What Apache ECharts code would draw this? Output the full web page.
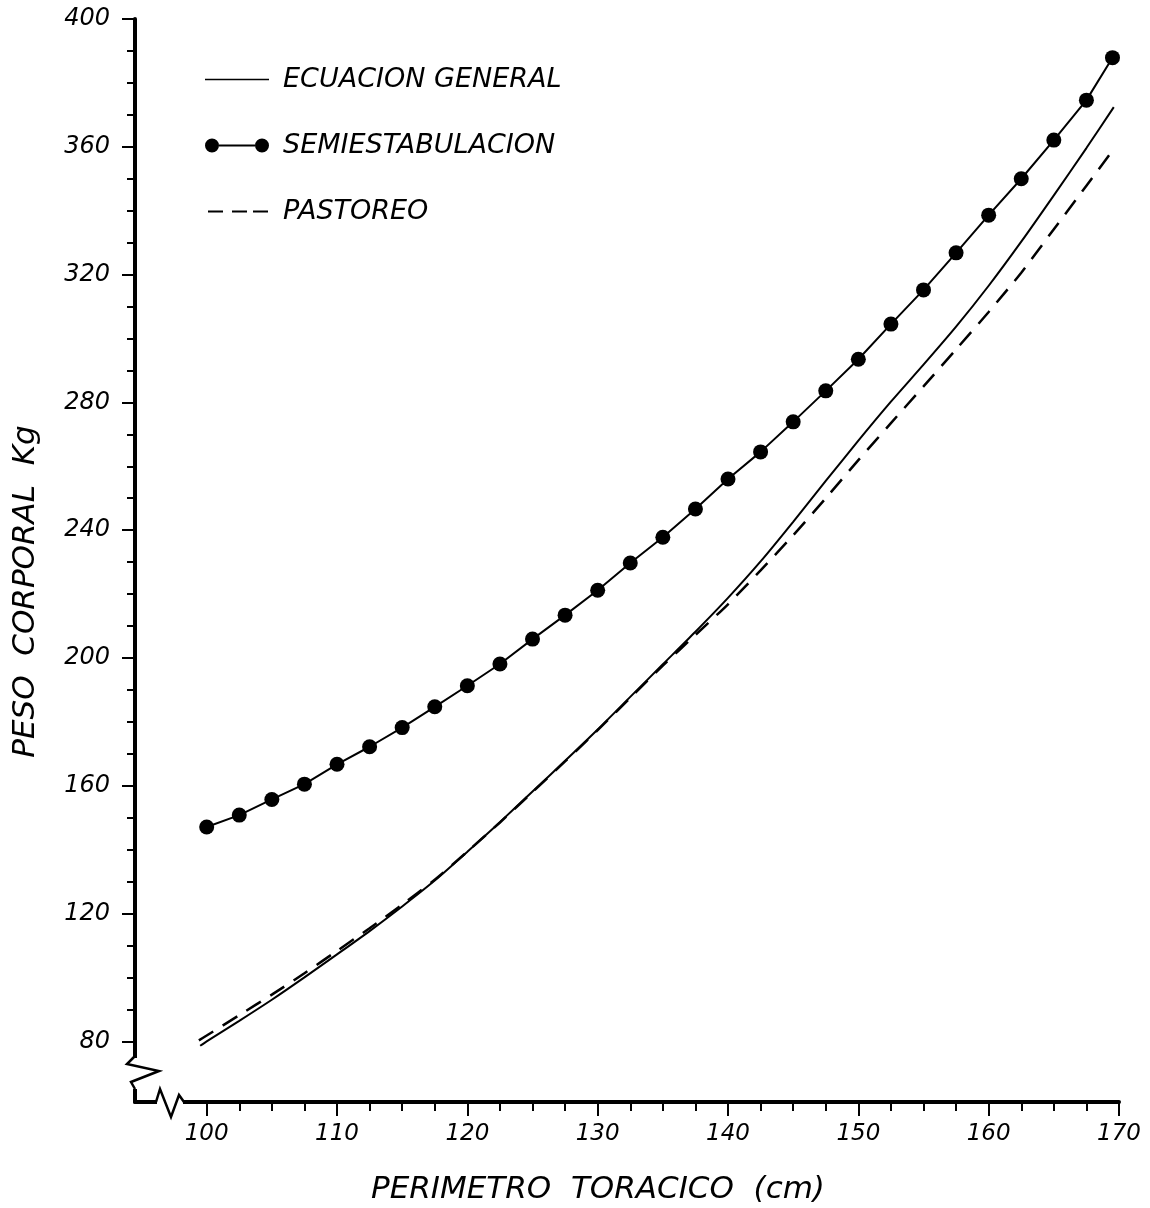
<!DOCTYPE html>
<html>
<head>
<meta charset="utf-8">
<script src="https://cdn.jsdelivr.net/npm/echarts@6/dist/echarts.min.js"></script>
<style>
  html, body { margin: 0; padding: 0; background: #fff; }
  #main { width: 1150px; height: 1208px; }
</style>
</head>
<body>
<div id="main"></div>
<script>
// axis ranges and ticks
const X_MIN = 94.5, X_MAX = 170;
const Y_MIN = 61, Y_MAX = 400;
const xMajor = [100, 110, 120, 130, 140, 150, 160, 170];
const xMinor = [102.5, 105, 107.5, 112.5, 115, 117.5, 122.5, 125, 127.5, 132.5, 135, 137.5,
  142.5, 145, 147.5, 152.5, 155, 157.5, 162.5, 165, 167.5];
const yMajor = [80, 120, 160, 200, 240, 280, 320, 360, 400];
const yMinor = [90, 100, 110, 130, 140, 150, 170, 180, 190, 210, 220, 230, 250, 260, 270,
  290, 300, 310, 330, 340, 350, 370, 380, 390];

// ECUACION GENERAL
const genX = [99.5, 100, 102.5, 105, 107.5, 110, 112.5, 115, 117.5, 120, 122.5, 125, 127.5, 130,
  132.5, 135, 137.5, 140, 142.5, 145, 147.5, 150, 152.5, 155, 157.5, 160, 162.5, 165, 167.5, 169.6];
const genY = [78.6, 80.0, 86.4, 93.0, 100.0, 107.2, 114.5, 122.2, 130.3, 139.3, 148.6, 158.2, 167.8, 177.6,
  187.8, 198.0, 208.2, 218.8, 230.2, 242.6, 255.4, 268.0, 280.2, 291.8, 303.7, 316.5, 330.3, 344.8, 359.6, 372.4];

// SEMIESTABULACION
const semiX = [100, 102.5, 105, 107.5, 110, 112.5, 115, 117.5, 120, 122.5, 125, 127.5, 130, 132.5,
  135, 137.5, 140, 142.5, 145, 147.5, 150, 152.5, 155, 157.5, 160, 162.5, 165, 167.5, 169.5];
const semiY = [147.1, 150.8, 155.7, 160.5, 166.7, 172.2, 178.2, 184.7, 191.3, 198.1, 205.9, 213.4, 221.2, 229.7,
  237.8, 246.6, 256.0, 264.5, 273.9, 283.6, 293.5, 304.5, 315.2, 326.8, 338.6, 350.0, 362.1, 374.6, 387.9];

// PASTOREO
const pastX = [99.4, 100, 102.5, 105, 107.5, 110, 112.5, 115, 117.5, 120, 122.5, 125, 127.5, 130,
  132.5, 135, 137.5, 140, 142.5, 145, 147.5, 150, 152.5, 155, 157.5, 160, 162.5, 165, 167.5, 169.25];
const pastY = [80.3, 81.8, 88.2, 94.6, 101.3, 108.3, 115.4, 122.8, 130.6, 139.4, 148.5, 158.0, 167.6, 177.4,
  187.5, 197.6, 207.2, 216.8, 227.4, 238.4, 250.0, 261.9, 273.5, 285.0, 296.6, 308.3, 320.6, 334.2, 347.8, 357.4];

const FONT = 'DejaVu Sans';
const pairs = (xs, ys) => xs.map((x, i) => [x, ys[i]]);

// legend glyphs (tiny corner squares pin the 64x14 box)
const PIN = 'M0,0H0.01V0.01H0Z M63.99,13.99H64V14H63.99Z ';
const iconSolid = 'path://' + PIN + 'M0,6.2H64V7.8H0Z';
const iconDots = 'path://' + PIN + 'M0,7A7,7,0,1,1,14,7A7,7,0,1,1,0,7Z M14,6.1H50V7.9H14Z M50,7A7,7,0,1,1,64,7A7,7,0,1,1,50,7Z';
const iconDash = 'path://' + PIN + 'M3,6H18V8H3Z M27,6H42V8H27Z M48,6H63V8H48Z';

const chart = echarts.init(document.getElementById('main'));

const option = {
  backgroundColor: '#fff',
  animation: false,
  grid: { left: 135, top: 19, width: 984, height: 1083, outerBoundsMode: 'none' },
  legend: {
    orient: 'vertical',
    left: 200,
    top: 61,
    itemWidth: 64,
    itemHeight: 14,
    itemGap: 39,
    textStyle: { fontFamily: FONT, fontStyle: 'italic', fontSize: 27, color: '#000', lineHeight: 24, padding: [0, 0, 0, 9] },
    data: [
      { name: 'ECUACION GENERAL', icon: iconSolid },
      { name: 'SEMIESTABULACION', icon: iconDots },
      { name: 'PASTOREO', icon: iconDash }
    ]
  },
  xAxis: [
    {
      type: 'value', min: X_MIN, max: X_MAX, position: 'bottom',
      name: 'PERIMETRO  TORACICO  (cm)', nameLocation: 'middle', nameGap: 72,
      nameTextStyle: { fontFamily: FONT, fontStyle: 'italic', fontSize: 31, color: '#000', padding: [0, 58, 0, 0] },
      axisLine: { show: true, onZero: false, lineStyle: { color: '#000', width: 4 } },
      axisTick: { show: true, customValues: xMajor, length: 14, lineStyle: { color: '#000', width: 2 } },
      axisLabel: { customValues: xMajor, margin: 21, fontFamily: FONT, fontStyle: 'italic', fontSize: 23, color: '#000' },
      splitLine: { show: false }
    },
    {
      type: 'value', min: X_MIN, max: X_MAX, position: 'bottom',
      axisLine: { show: false, onZero: false },
      axisTick: { show: true, customValues: xMinor, length: 9, lineStyle: { color: '#000', width: 2 } },
      axisLabel: { show: false },
      splitLine: { show: false }
    }
  ],
  yAxis: [
    {
      type: 'value', min: Y_MIN, max: Y_MAX, position: 'left',
      name: 'PESO  CORPORAL  Kg', nameLocation: 'middle', nameGap: 94,
      nameTextStyle: { fontFamily: FONT, fontStyle: 'italic', fontSize: 31, color: '#000', padding: [0, 62, 0, 0] },
      axisLine: { show: true, onZero: false, lineStyle: { color: '#000', width: 4 } },
      axisTick: { show: true, customValues: yMajor, length: 13, lineStyle: { color: '#000', width: 2 } },
      axisLabel: { customValues: yMajor, margin: 25, fontFamily: FONT, fontStyle: 'italic', fontSize: 24, color: '#000' },
      splitLine: { show: false }
    },
    {
      type: 'value', min: Y_MIN, max: Y_MAX, position: 'left',
      axisLine: { show: false, onZero: false },
      axisTick: { show: true, customValues: yMinor, length: 8, lineStyle: { color: '#000', width: 2 } },
      axisLabel: { show: false },
      splitLine: { show: false }
    }
  ],
  series: [
    {
      name: 'ECUACION GENERAL', type: 'line', smooth: 0.25, symbol: 'none',
      data: pairs(genX, genY),
      lineStyle: { color: '#000', width: 2 }, itemStyle: { color: '#000' }
    },
    {
      name: 'SEMIESTABULACION', type: 'line', symbol: 'circle', symbolSize: 15,
      data: pairs(semiX, semiY),
      lineStyle: { color: '#000', width: 2 }, itemStyle: { color: '#000' }
    },
    {
      name: 'PASTOREO', type: 'line', smooth: 0.25, symbol: 'none',
      data: pairs(pastX, pastY),
      lineStyle: { color: '#000', width: 2.5, type: [17, 11] }, itemStyle: { color: '#000' }
    }
  ]
};
chart.setOption(option);

// axis break marks at the origin corner
const cx = chart.convertToPixel({ xAxisIndex: 0 }, X_MIN);
const cy = chart.convertToPixel({ yAxisIndex: 0 }, Y_MIN);
const rel = pts => pts.map(p => [cx + p[0], cy + p[1]]);
chart.setOption({
  graphic: [
    { type: 'rect', shape: { x: cx - 4, y: cy - 44, width: 8, height: 31 }, style: { fill: '#fff' }, z: 100 },
    { type: 'rect', shape: { x: cx + 22, y: cy - 4, width: 26, height: 8 }, style: { fill: '#fff' }, z: 100 },
    { type: 'polyline', shape: { points: rel([[0, -46], [-8, -38], [24, -31], [-4, -20], [0, -13]]) },
      style: { stroke: '#000', lineWidth: 2.5, fill: null }, z: 101 },
    { type: 'polyline', shape: { points: rel([[21, 0], [25, -13], [36, 15], [44, -7], [49, 0]]) },
      style: { stroke: '#000', lineWidth: 2.5, fill: null }, z: 101 }
  ]
});
</script>
</body>
</html>
